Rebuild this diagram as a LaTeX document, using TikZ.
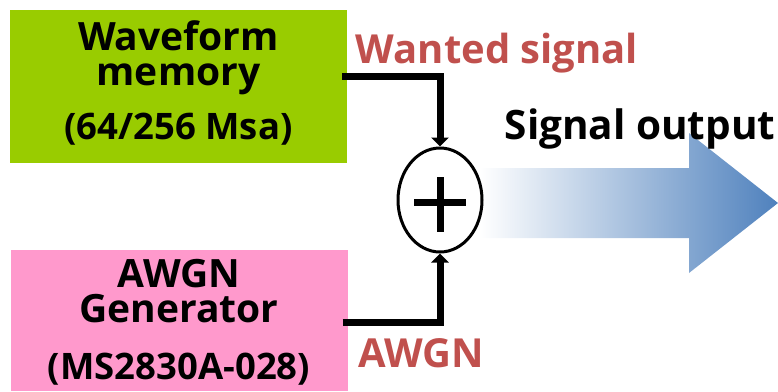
\documentclass[tikz,border=0pt]{standalone}
\usepackage{fontspec}
\setmainfont{Open Sans}
\usetikzlibrary{arrows.meta,shapes.geometric}
\definecolor{boxgreen}{RGB}{153,204,0}
\definecolor{boxpink}{RGB}{255,153,204}
\definecolor{lblred}{RGB}{192,80,77}
\definecolor{arrowblue}{RGB}{79,129,189}
\tikzset{
  blockbox/.style={draw=none, minimum width=337pt, inner sep=0pt, outer sep=0pt},
  bigtxt/.style={font=\fontsize{39}{35}\selectfont\bfseries, align=center, anchor=base, inner sep=0pt},
  smalltxt/.style={font=\fontsize{36.5}{36.5}\selectfont\bfseries, anchor=base, inner sep=0pt},
  lbltxt/.style={font=\fontsize{40}{40}\selectfont\bfseries, anchor=base, inner sep=0pt},
  conn/.style={line width=7pt, -{Triangle[width=17pt,length=9pt]}},
}
\begin{document}
\begin{tikzpicture}[x=1pt,y=-1pt]
\useasboundingbox (0,0) rectangle (778,391);
% blocks
\node[blockbox, fill=boxgreen, minimum height=153pt] (wf) at (178.5,86.5) {};
\node[blockbox, fill=boxpink, minimum height=141pt] (ag) at (179,320.5) {};
\node[bigtxt] (wf1) at (178.5,85) {Waveform\\memory};
\node[smalltxt] (wf3) at (178.5,139) {(64/256 Msa)};
\node[bigtxt] (ag1) at (179,322) {AWGN\\Generator};
\node[smalltxt] (ag3) at (179,379) {(MS2830A-028)};
% output arrow
\shade[left color=white, right color=arrowblue]
  (480,168) -- (689,168) -- (689,133) -- (778,203) -- (689,273) -- (689,238) -- (480,238) -- cycle;
% summing junction
\node[draw, line width=3pt, fill=white, ellipse, minimum width=84pt, minimum height=104pt, inner sep=0pt] (sum) at (440,200) {};
\draw[line width=7pt] (414,202) -- (466,202);
\draw[line width=7pt] (440,177) -- (440,232);
% connectors
\draw[conn] ([xshift=-5pt,yshift=10.5pt]wf.east) -| (sum.north);
\draw[conn] ([xshift=-5pt,yshift=-1.5pt]ag.east) -| (sum.south);
% labels
\node[lbltxt, text=lblred] (lw) at (497,63) {Wanted signal};
\node[lbltxt, text=lblred] (la) at (421,367) {AWGN};
\node[lbltxt, font=\fontsize{40.5}{40.5}\selectfont\bfseries] (lo) at (640,139) {Signal output};
\end{tikzpicture}
\end{document}
